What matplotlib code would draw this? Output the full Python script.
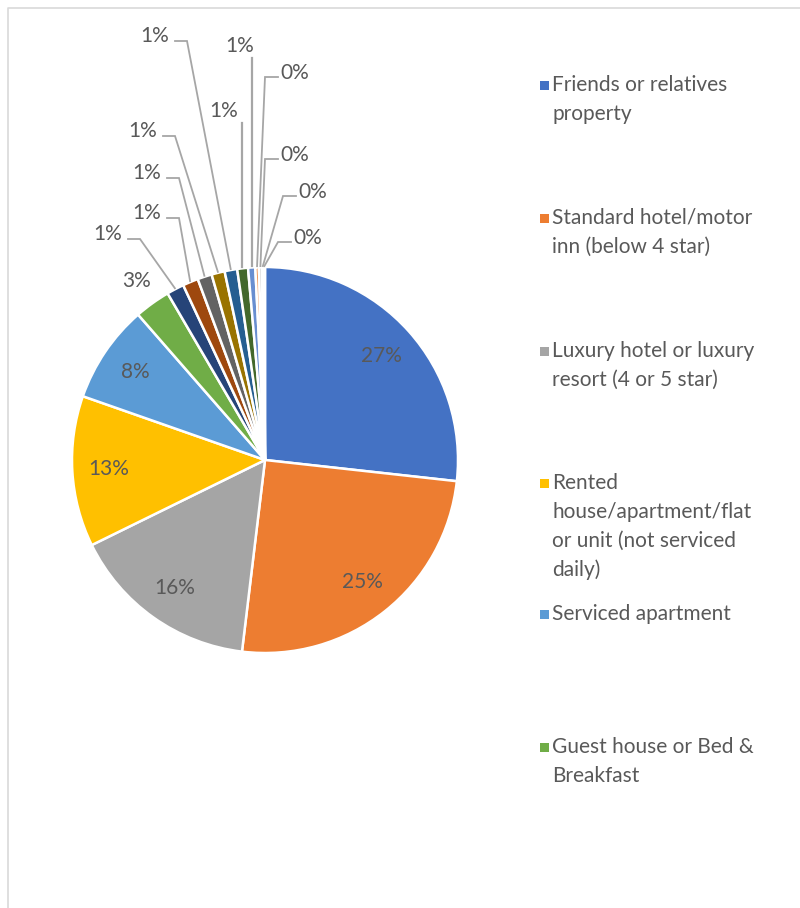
import numpy as np
import matplotlib
matplotlib.use("Agg")
import matplotlib.pyplot as plt
from matplotlib.patches import Rectangle

plt.rcParams['font.family'] = ['Lato', 'DejaVu Sans']

# ---------------- data ----------------
categories = [
    "Friends or relatives property",
    "Standard hotel/motor inn (below 4 star)",
    "Luxury hotel or luxury resort (4 or 5 star)",
    "Rented house/apartment/flat or unit (not serviced daily)",
    "Serviced apartment",
    "Guest house or Bed & Breakfast",
    "Other 1", "Other 2", "Other 3", "Other 4", "Other 5", "Other 6",
    "Other 7", "Other 8", "Other 9", "Other 10", "Other 11",
]
values = [26.7, 25.1, 15.8, 12.6, 8.2, 3.0,
          1.45, 1.3, 1.2, 1.1, 1.05, 0.9, 0.6, 0.3, 0.25, 0.15, 0.1]
legend_labels = [
    "Friends or relatives\nproperty",
    "Standard hotel/motor\ninn (below 4 star)",
    "Luxury hotel or luxury\nresort (4 or 5 star)",
    "Rented\nhouse/apartment/flat\nor unit (not serviced\ndaily)",
    "Serviced apartment",
    "Guest house or Bed &\nBreakfast",
]
colors = ["#4472C4", "#ED7D31", "#A5A5A5", "#FFC000", "#5B9BD5", "#70AD47",
          "#264478", "#9E480E", "#636363", "#997300", "#255E91", "#43682B",
          "#698ED0", "#F1975A", "#B7B7B7", "#FFCD33", "#F4F4F4"]

# ---------------- layout (pixel coordinates) ----------------
W, H = 800, 908
CX, CY, R = 265, 460, 193
# outer label text positions (pixel) for slices index 6..16
outer_pos = {
    6: (108, 234, 'h'), 7: (147, 213, 'h'), 8: (147, 173, 'h'), 9: (143, 131, 'h'),
    10: (155, 36, 'h'), 11: (224, 111, 'v'), 12: (240, 46, 'v'),
    13: (295, 73, 'hr'), 14: (295, 155, 'hr'), 15: (313, 192, 'hr'), 16: (308, 238, 'hr'),
}
legend_y = [85, 218, 351, 483, 614, 747]
line_h = 29

fig = plt.figure(figsize=(W / 100, H / 100), dpi=100)
ax = fig.add_axes([0, 0, 1, 1])

def py(y):
    return H - y

wedges, _ = ax.pie(values, colors=colors, startangle=90, counterclock=False,
                   center=(CX, py(CY)), radius=R,
                   wedgeprops=dict(edgecolor='white', linewidth=1.8))
ax.set_xlim(0, W)
ax.set_ylim(0, H)
ax.set_aspect('equal')
ax.axis('off')

label_color = '#595959'
fs = 15
lead_color = '#A6A6A6'

def pct_text(v):
    return f"{int(np.floor(v + 0.5))}%"

for i, (w, v) in enumerate(zip(wedges, values)):
    mid = np.deg2rad((w.theta1 + w.theta2) / 2)
    dx, dy = np.cos(mid), np.sin(mid)
    if i < 5:
        rr = 0.81 * R
        ax.text(CX + dx * rr, py(CY) + dy * rr, pct_text(v), ha='center', va='center',
                fontsize=fs, color=label_color)
    elif i == 5:
        rr = 1.14 * R
        ax.text(CX + dx * rr, py(CY) + dy * rr, pct_text(v), ha='center', va='center',
                fontsize=fs, color=label_color)
    else:
        tx, ty, kind = outer_pos[i]
        ax.text(tx, py(ty), pct_text(v), ha='center', va='center',
                fontsize=fs, color=label_color)
        ax_x = CX + dx * R * 1.005
        ax_y = py(CY) + dy * R * 1.005
        if kind == 'h':
            x0 = tx + 20
            x1 = tx + 32
            yy = py(ty + 5)
            ax.plot([x0, x1, ax_x], [yy, yy, ax_y], color=lead_color, lw=1.3,
                    solid_joinstyle='miter')
        elif kind == 'hr':
            x0 = tx - 17
            x1 = tx - 30
            yy = py(ty + 4)
            ax.plot([x0, x1, ax_x], [yy, yy, ax_y], color=lead_color, lw=1.3,
                    solid_joinstyle='miter')
        else:
            ax.plot([ax_x, ax_x], [py(ty + 12), ax_y], color=lead_color, lw=1.6)

# legend
for j, lab in enumerate(legend_labels):
    y0 = legend_y[j]
    ax.add_patch(Rectangle((540, py(y0) - 4.5), 9, 9, facecolor=colors[j], edgecolor='none'))
    for k, line in enumerate(lab.split("\n")):
        ax.text(552, py(y0 + k * line_h), line, ha='left', va='center',
                fontsize=fs, color=label_color)

# chart border
ax.plot([7.5, 7.5, W + 5], [-5, py(7.5), py(7.5)], color='#D9D9D9', lw=1.2, clip_on=False)

fig.savefig("out.png", dpi=100, facecolor='white')
